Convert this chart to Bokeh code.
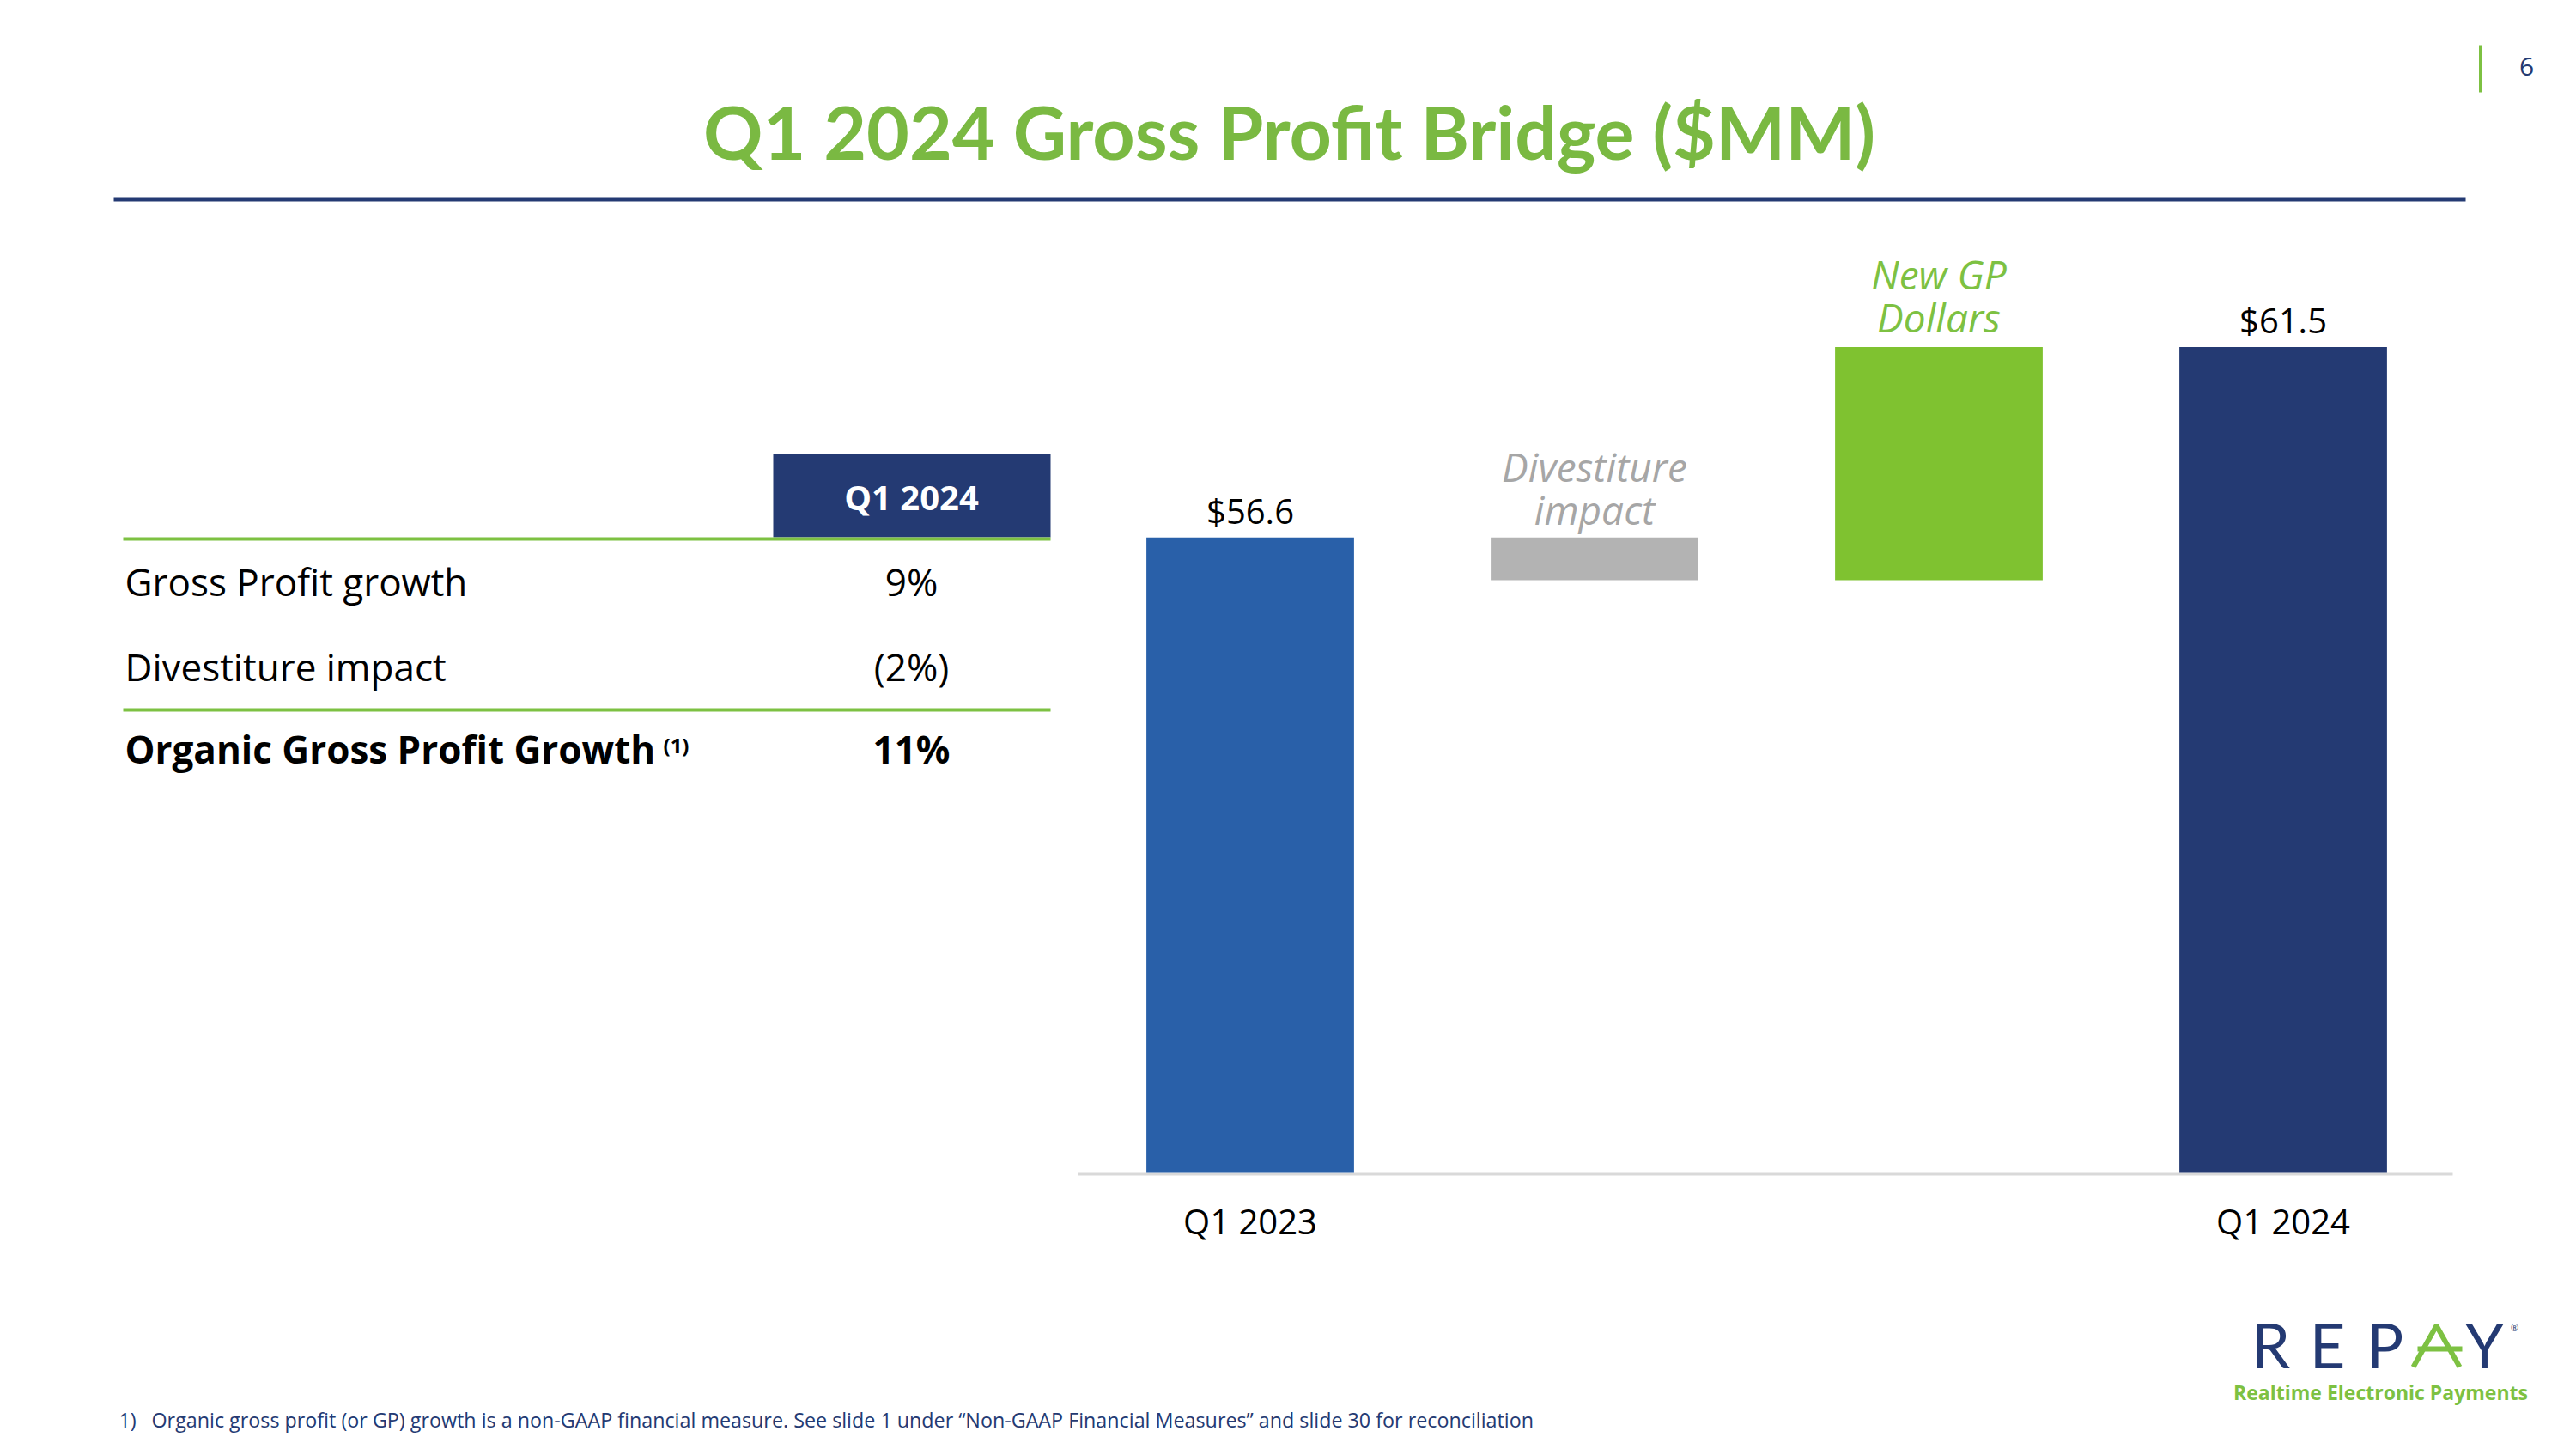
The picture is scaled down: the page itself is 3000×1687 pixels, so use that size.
from bokeh.plotting import figure
from bokeh.models import Range1d
from bokeh.core.properties import value
from bokeh.embed import file_html
from bokeh.resources import INLINE

# ---- data -------------------------------------------------------------
categories = ["Q1 2023", "Divestiture impact", "New GP Dollars", "Q1 2024"]
q1_2023_gp = 56.6
divestiture_change = -1.1
new_gp_change = 6.0
q1_2024_gp = 61.5
step_labels = ["Divestiture\nimpact", "New GP\nDollars"]
axis_labels = ["Q1 2023", "Q1 2024"]

table_header = "Q1 2024"
table_rows = ["Gross Profit growth", "Divestiture impact", "Organic Gross Profit Growth"]
table_values = ["9%", "(2%)", "11%"]

title = "Q1 2024 Gross Profit Bridge ($MM)"
footnote = ("Organic gross profit (or GP) growth is a non-GAAP financial measure. "
            "See slide 1 under \u201cNon-GAAP Financial Measures\u201d and slide 30 for reconciliation")

# ---- palette / layout ------------------------------------------------
NAVY = "#243A73"
BLUE = "#2960A9"
GREY = "#B3B3B3"
GREEN_BAR = "#7FC230"
GREEN = "#7DC142"
TITLE_GREEN = "#7AB942"
LABEL_GREY = "#A6A6A6"
SANS = value("Open Sans")

W, H = 3000, 1687
AXIS_FLOOR = 40.25      # value at the chart baseline
BASE_PX = 1365          # page y of the chart baseline
PX_PER_UNIT = 45.25
BAR0_PX = 1455.5        # page x of the first bar centre
BAR_STEP_PX = 401.0
BAR_WIDTH = 0.603
BASELINE_FIX = 0.37     # lift so that the given y is the text baseline


def page_text(x, y, txt, size, font=SANS, **kw):
    """Text placed by its baseline in page pixel coordinates."""
    kw.setdefault("text_color", "black")
    p.text(x=[x], y=[y - BASELINE_FIX * size], text=[txt], text_font=font,
           text_font_size=f"{size}px", text_baseline="alphabetic", **kw)


p = figure(width=W, height=H, x_range=Range1d(0, W), y_range=Range1d(H, 0),
           output_backend="svg", toolbar_location=None,
           x_axis_location=None, y_axis_location=None, min_border=0,
           outline_line_color=None, background_fill_color="white",
           border_fill_color="white")
p.grid.visible = False

# chart scales placed inside the page
p.extra_x_ranges = {"bx": Range1d(-BAR0_PX / BAR_STEP_PX, (W - BAR0_PX) / BAR_STEP_PX)}
p.extra_y_ranges = {"by": Range1d(AXIS_FLOOR - (H - BASE_PX) / PX_PER_UNIT,
                                  AXIS_FLOOR + BASE_PX / PX_PER_UNIT)}

# ---- waterfall geometry from the values ------------------------------
bottoms = [AXIS_FLOOR]
tops = [q1_2023_gp]
running = q1_2023_gp
for change in (divestiture_change, new_gp_change):
    nxt = running + change
    bottoms.append(min(running, nxt))
    tops.append(max(running, nxt))
    running = nxt
bottoms.append(AXIS_FLOOR)
tops.append(q1_2024_gp)
xs = list(range(len(categories)))
colors = [BLUE, GREY, GREEN_BAR, NAVY]

# ---- header ----------------------------------------------------------
page_text(1501, 184, title, 86, font=value("Lato"), text_font_style="bold",
          text_color=TITLE_GREEN, text_align="center")
p.segment(x0=[132], y0=[231.5], x1=[2871], y1=[231.5], line_color=NAVY, line_width=5)
p.segment(x0=[2888], y0=[52], x1=[2888], y1=[107], line_color=GREEN, line_width=3)
page_text(2942, 88, "6", 30, text_color=NAVY, text_align="center")

# ---- table -----------------------------------------------------------
p.quad(left=[900], right=[1223], top=[528], bottom=[625], fill_color=NAVY, line_color=None)
page_text(1061, 593, table_header, 40, text_font_style="bold", text_color="white",
          text_align="center")
p.segment(x0=[143, 143], y0=[627, 826], x1=[1223, 1223], y1=[627, 826],
          line_color=GREEN, line_width=4)
row_y = [693, 792, 888]
for i, (lab, val) in enumerate(zip(table_rows, table_values)):
    style = "bold" if i == len(table_rows) - 1 else "normal"
    page_text(145, row_y[i], lab, 44, text_font_style=style)
    page_text(1061, row_y[i], val, 44, text_font_style=style, text_align="center")
page_text(772, 876, "(1)", 24, text_font_style="bold")

# ---- bridge chart ----------------------------------------------------
p.segment(x0=[1255], y0=[1366.5], x1=[2856], y1=[1366.5], line_color="#D9D9D9", line_width=3)
p.vbar(x=xs, bottom=bottoms, top=tops, width=BAR_WIDTH, fill_color=colors,
       line_color=None, x_range_name="bx", y_range_name="by")

total_idx = [0, len(categories) - 1]
p.text(x=total_idx, y=[tops[i] for i in total_idx],
       text=[f"${tops[i]:.1f}" for i in total_idx], text_font=SANS,
       text_font_size="40px", text_color="black", text_align="center",
       text_baseline="alphabetic", y_offset=-31, x_range_name="bx", y_range_name="by")
for k, (lab, col, off) in enumerate(zip(step_labels, [LABEL_GREY, GREEN], [-2, -4])):
    p.text(x=[k + 1], y=[tops[k + 1]], text=[lab], text_font=SANS,
           text_font_style="italic", text_font_size="46px", text_color=col,
           text_align="center", text_baseline="bottom", text_line_height=0.8,
           y_offset=off, x_range_name="bx", y_range_name="by")
p.text(x=total_idx, y=[1436 - BASELINE_FIX * 40] * 2, text=axis_labels, text_font=SANS,
       text_font_size="40px", text_color="black", text_align="center",
       text_baseline="alphabetic", x_range_name="bx")

# ---- logo ------------------------------------------------------------
for ch, cx in zip("REPY", [2644, 2710, 2777, 2893]):
    page_text(cx, 1591, ch, 72, font=value("Lato"), text_color=NAVY, text_align="center")
p.line(x=[2810, 2837, 2864], y=[1591, 1543, 1591], line_color=GREEN, line_width=6)
p.segment(x0=[2815], y0=[1570], x1=[2867], y1=[1570], line_color=GREEN, line_width=6)
page_text(2928, 1549, "\u00ae", 11, text_color=NAVY, text_align="center")
page_text(2772, 1629, "Realtime Electronic Payments", 23, text_font_style="bold",
          text_color=GREEN, text_align="center")

# ---- footnote --------------------------------------------------------
page_text(138, 1661, "1)", 23.3, text_color=NAVY)
page_text(176, 1661, footnote, 23.3, text_color=NAVY)

open("out.html", "w").write(file_html(p, INLINE))
